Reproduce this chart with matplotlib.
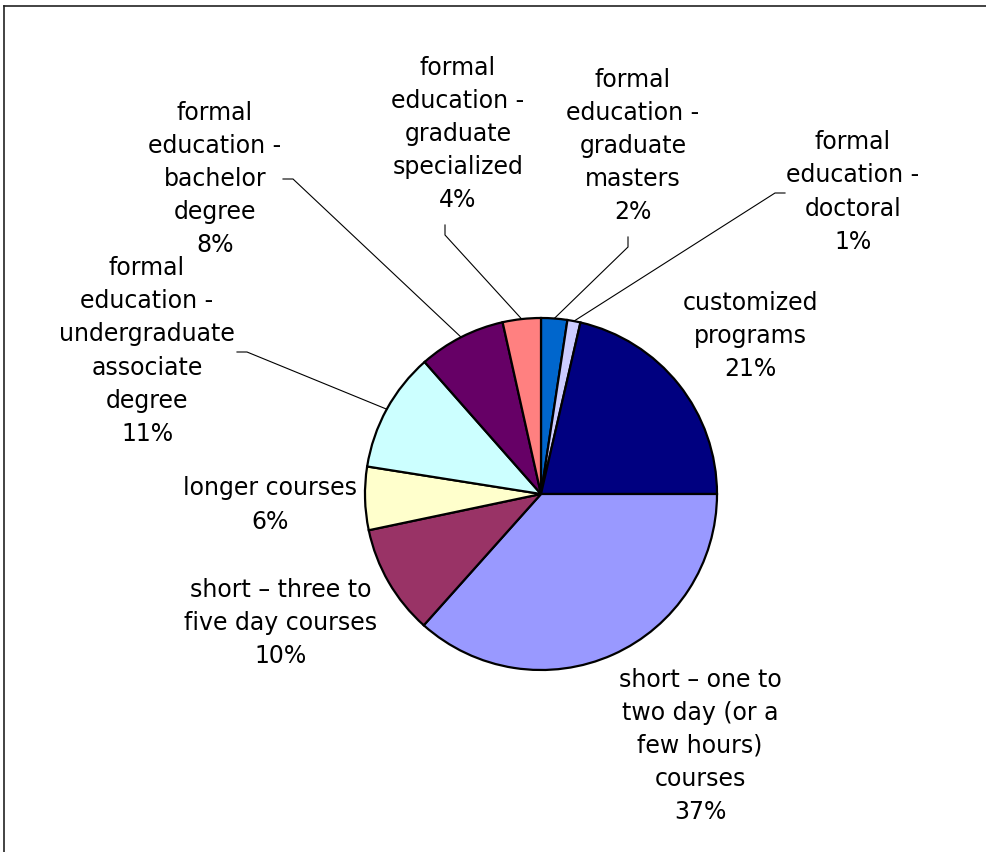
import matplotlib
matplotlib.use("Agg")
import matplotlib.pyplot as plt
import numpy as np

plt.rcParams['font.family'] = ['DejaVu Sans']

# Share of training by type (percent), clockwise from 12 o'clock
categories = [
    "formal\neducation -\ngraduate\nmasters",
    "formal\neducation -\ndoctoral",
    "customized\nprograms",
    "short – one to\ntwo day (or a\nfew hours)\ncourses",
    "short – three to\nfive day courses",
    "longer courses",
    "formal\neducation -\nundergraduate\nassociate\ndegree",
    "formal\neducation -\nbachelor\ndegree",
    "formal\neducation -\ngraduate\nspecialized",
]
values = [2.4, 1.2, 21.4, 36.6, 10.1, 5.8, 11.0, 8.0, 3.5]
colors = ["#0066CC", "#CCCCFF", "#000080", "#9999FF", "#993366",
          "#FFFFCC", "#CCFFFF", "#660066", "#FF8080"]

W, H = 987, 852
fig = plt.figure(figsize=(W / 100, H / 100), dpi=100)
ax = fig.add_axes([0, 0, 1, 1])

cx, cy, r = 541, H - 494, 176
wedges, _ = ax.pie(values, colors=colors, startangle=90, counterclock=False,
                   center=(cx, cy), radius=r, frame=True,
                   wedgeprops=dict(edgecolor="black", linewidth=1.6))
ax.set_xlim(0, W)
ax.set_ylim(0, H)
ax.set_aspect("equal")
ax.axis("off")

# label centres (pixel coords from top-left)
label_pos = [(633, 146), (853, 192), (750, 336), (700, 746), (281, 623),
             (270, 505), (147, 351), (215, 179), (458, 134)]
# leader lines: (start, elbow) in pixel coords, None when no leader
leaders = [((628, 237), (628, 247)), ((785, 193), (775, 193)), None, None, None,
           None, ((237, 352), (247, 352)), ((283, 179), (293, 179)),
           ((445, 225), (445, 235))]

for w, name, v, (lx, ly), ld in zip(wedges, categories, values, label_pos, leaders):
    ax.text(lx, H - ly, f"{name}\n{int(v + 0.5)}%", ha="center", va="center",
            multialignment="center", fontsize=17, linespacing=1.48, color="black")
    if ld is not None:
        mid = np.deg2rad((w.theta1 + w.theta2) / 2)
        ex, ey = cx + r * np.cos(mid), cy + r * np.sin(mid)
        (sx, sy), (bx, by) = ld
        ax.plot([sx, bx, ex], [H - sy, H - by, ey], color="black", lw=0.8,
                solid_joinstyle="miter")

# outer chart-area border (top and left edges visible)
fig.add_artist(plt.Line2D([4 / W, 4 / W], [0, 1 - 6 / H], color="#222222", lw=1.2,
                          transform=fig.transFigure))
fig.add_artist(plt.Line2D([4 / W, 1], [1 - 6 / H, 1 - 6 / H], color="#222222", lw=1.2,
                          transform=fig.transFigure))

fig.savefig("out.png", dpi=100, facecolor="white")
